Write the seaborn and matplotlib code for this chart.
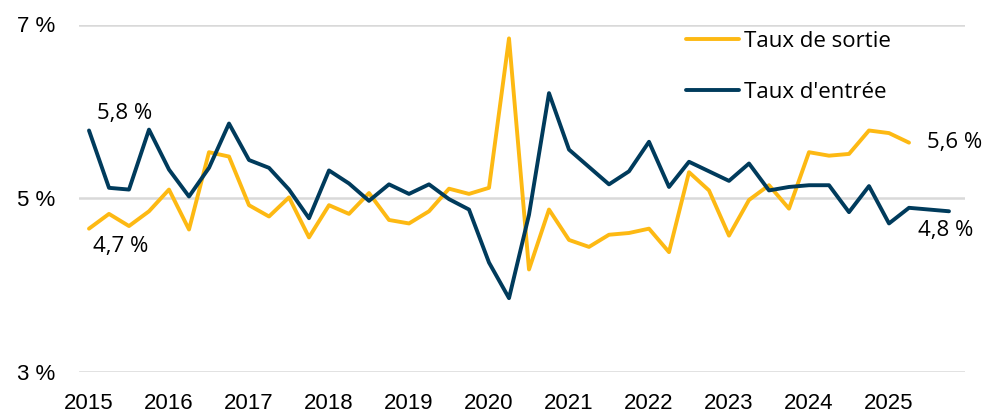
import numpy as np
import pandas as pd
import matplotlib
matplotlib.use("Agg")
import matplotlib.pyplot as plt
import seaborn as sns

sns.set_style("white")
plt.rcParams["font.family"] = ["Open Sans", "DejaVu Sans"]
plt.rcParams["text.color"] = "black"
plt.rcParams["xtick.color"] = "black"
plt.rcParams["ytick.color"] = "black"

# ------------------------------------------------------------
# Data : quarterly rates, 2015 Q1 -> 2025 Q4
# ------------------------------------------------------------
years = ["2015", "2016", "2017", "2018", "2019", "2020",
         "2021", "2022", "2023", "2024", "2025"]

taux_sortie = [4.65, 4.82, 4.68, 4.85, 5.10, 4.64, 5.53, 5.48, 4.92, 4.79,
               5.01, 4.55, 4.92, 4.82, 5.06, 4.75, 4.71, 4.85, 5.11, 5.05,
               5.12, 6.84, 4.18, 4.87, 4.52, 4.44, 4.58, 4.60, 4.65, 4.38,
               5.30, 5.09, 4.57, 4.98, 5.15, 4.88, 5.53, 5.49, 5.51, 5.78,
               5.75, 5.64]

taux_entree = [5.78, 5.12, 5.10, 5.79, 5.33, 5.02, 5.35, 5.86, 5.44, 5.35,
               5.10, 4.77, 5.32, 5.17, 4.97, 5.16, 5.05, 5.16, 4.99, 4.87,
               4.26, 3.85, 4.81, 6.21, 5.56, 5.36, 5.16, 5.31, 5.65, 5.13,
               5.42, 5.31, 5.20, 5.40, 5.09, 5.13, 5.15, 5.15, 4.84, 5.14,
               4.71, 4.89, 4.87, 4.85]

yticks = [3, 5, 7]

yellow = "#FDB913"
navy = "#003B5C"

df_s = pd.DataFrame({"q": np.arange(len(taux_sortie)), "v": taux_sortie})
df_e = pd.DataFrame({"q": np.arange(len(taux_entree)), "v": taux_entree})

# ------------------------------------------------------------
# Plot
# ------------------------------------------------------------
fig = plt.figure(figsize=(9.87, 4.12), dpi=100)
ax = fig.add_axes([79 / 987, 1 - 372 / 412, 886 / 987, 347.5 / 412])

for yv in yticks:
    ax.axhline(yv, color="#d9d9d9", lw=1.8, zorder=0)

sns.lineplot(data=df_s, x="q", y="v", ax=ax, color=yellow, lw=2.8,
             label="Taux de sortie")
sns.lineplot(data=df_e, x="q", y="v", ax=ax, color=navy, lw=2.8,
             label="Taux d'entrée")

ax.set_xlim(-0.5, 43.8)
ax.set_ylim(3, 7)
ax.set_xticks(np.arange(len(years)) * 4)
ax.set_xticklabels(years)
ax.set_yticks(yticks)
ax.set_yticklabels([f"{v} %" for v in yticks])
ax.set_xlabel("")
ax.set_ylabel("")
ax.tick_params(length=0)
ax.tick_params(axis="x", pad=15)
ax.tick_params(axis="y", pad=17)
for lab in ax.get_xticklabels() + ax.get_yticklabels():
    lab.set_family(["Liberation Sans Narrow", "Liberation Sans", "DejaVu Sans"])
    lab.set_fontsize(16)
sns.despine(ax=ax, left=True, bottom=True)
ax.grid(False)

# end-point labels
def lab(v):
    return f"{v:.1f} %".replace(".", ",")

ax.annotate(lab(taux_entree[0]), (0, taux_entree[0]), xytext=(6, 12),
            textcoords="offset points", ha="left", va="center", fontsize=16)
ax.annotate(lab(taux_sortie[0]), (0, taux_sortie[0]), xytext=(3, -13),
            textcoords="offset points", ha="left", va="center", fontsize=16)
ax.annotate(lab(taux_sortie[-1]), (len(taux_sortie) - 1, taux_sortie[-1]),
            xytext=(13, 0), textcoords="offset points", ha="left",
            va="center", fontsize=16)
ax.annotate(lab(taux_entree[-1]), (len(taux_entree) - 1, taux_entree[-1]),
            xytext=(-22, -14), textcoords="offset points", ha="left",
            va="center", fontsize=16)

ax.legend_.remove()
handles, labels = ax.get_legend_handles_labels()
fig.legend(handles, labels, loc="upper left",
           bbox_to_anchor=(686 / 987, 1 - 31 / 412),
           bbox_transform=fig.transFigure, frameon=False, fontsize=16,
           borderpad=0, borderaxespad=0, handlelength=2.4,
           handletextpad=0.2, labelspacing=1.35)

plt.savefig("out.png", dpi=100)
